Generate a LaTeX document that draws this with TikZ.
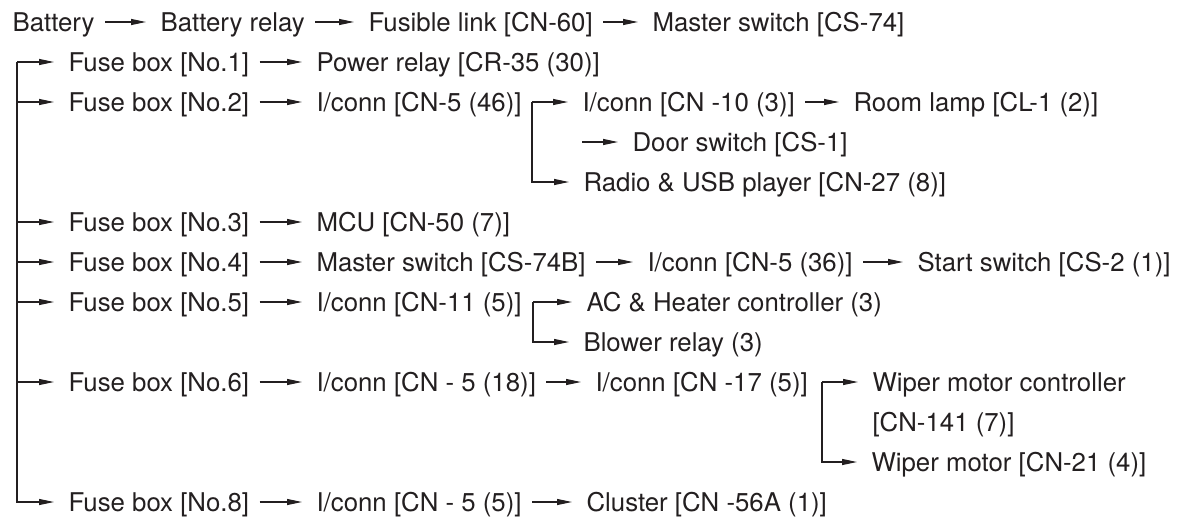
\documentclass[tikz,border=0pt]{standalone}
\usepackage{fontspec}
\setmainfont{TeX Gyre Heros}
\usetikzlibrary{arrows.meta}
\definecolor{ink}{HTML}{231F20}

\begin{document}
\begin{tikzpicture}[x=0.5pt, y=-0.5pt, line width=0.55pt, color=ink,
    txt/.style={inner sep=0pt, font=\fontsize{12.9pt}{20pt}\selectfont},
    lbl/.style={txt, anchor=west, text height=9.3pt, text depth=0pt},
    arr/.style={-{Triangle[length=7.5pt,width=3pt]}, shorten >=7pt},
    gap/.style={shorten <=5pt}]
    \useasboundingbox (0,0) rectangle (1186,519);

    % 第一行
    \node[lbl] (bat) at (12,22) {Battery};
    \node[lbl] (brel) at (160,22) {Battery relay};
    \node[lbl] (fl60) at (368,22) {Fusible link [CN-60]};
    \node[lbl] (ms74) at (652,22) {Master switch [CS-74]};
    \draw[arr,gap] (bat) -- (brel);
    \draw[arr,gap] (brel) -- (fl60);
    \draw[arr,gap] (fl60) -- (ms74);

    % 保险丝盒
    \node[lbl] (fb1) at (68,62) {Fuse box [No.1]};
    \node[lbl] (fb2) at (68,102) {Fuse box [No.2]};
    \node[lbl] (fb3) at (68,222) {Fuse box [No.3]};
    \node[lbl] (fb4) at (68,262) {Fuse box [No.4]};
    \node[lbl] (fb5) at (68,302) {Fuse box [No.5]};
    \node[lbl] (fb6) at (68,382) {Fuse box [No.6]};
    \node[lbl] (fb8) at (68,502) {Fuse box [No.8]};

    % 主干线
    \coordinate (trunk) at (17,62);
    \foreach \f in {fb1,fb2,fb3,fb4,fb5,fb6}
        \draw[arr] (trunk |- \f) -- (\f);
    \draw[arr] (trunk) |- (fb8);

    % 第二列
    \node[lbl] (pr35) at (316,62) {Power relay [CR-35 (30)]};
    \node[lbl] (c46) at (316,102) {I/conn [CN-5 (46)]};
    \node[lbl] (mcu) at (316,222) {MCU [CN-50 (7)]};
    \node[lbl] (ms74b) at (316,262) {Master switch [CS-74B]};
    \node[lbl] (c11) at (316,302) {I/conn [CN-11 (5)]};
    \node[lbl] (c18) at (316,382) {I/conn [CN - 5 (18)]};
    \node[lbl] (c5) at (316,502) {I/conn [CN - 5 (5)]};
    \foreach \a/\b in {fb1/pr35, fb2/c46, fb3/mcu, fb4/ms74b, fb5/c11, fb6/c18, fb8/c5}
        \draw[arr,gap] (\a) -- (\b);

    % No.2 分支
    \node[lbl] (c10) at (582,102) {I/conn [CN -10 (3)]};
    \node[lbl] (lamp) at (853,102) {Room lamp [CL-1 (2)]};
    \node[lbl] (door) at (632,142) {Door switch [CS-1]};
    \node[lbl] (radio) at (583,182) {Radio \& USB player [CN-27 (8)]};
    \coordinate (br46) at (532,102);
    \draw[arr] (br46) -- (c10);
    \draw[arr] (br46) |- (radio);
    \draw[arr,gap] (c10) -- (lamp);
    \draw[arr] (c10.west |- door) -- (door);

    % No.4
    \node[lbl] (c36) at (647,262) {I/conn [CN-5 (36)]};
    \node[lbl] (start) at (917,262) {Start switch [CS-2 (1)]};
    \draw[arr,gap] (ms74b) -- (c36);
    \draw[arr,gap] (c36) -- (start);

    % No.5 分支
    \node[lbl] (ach) at (586,302) {AC \& Heater controller (3)};
    \node[lbl] (blower) at (583,342) {Blower relay (3)};
    \coordinate (br11) at (533,302);
    \draw[arr] (br11) -- (ach);
    \draw[arr] (br11) |- (blower);

    % No.6 分支
    \node[lbl] (c17) at (595,382) {I/conn [CN -17 (5)]};
    \node[txt, anchor=north west, align=left] (wipc) at (872,372.5) {Wiper motor controller\\{[CN-141 (7)]}};
    \node[lbl] (wiper) at (871,462) {Wiper motor [CN-21 (4)]};
    \draw[arr,gap] (c18) -- (c17);
    \coordinate (br17) at (822,382);
    \draw[arr] (br17) -- (br17 -| wipc.west);
    \draw[arr] (br17) |- (wiper);

    % No.8
    \node[lbl] (cluster) at (586,502) {Cluster [CN -56A (1)]};
    \draw[arr,gap] (c5) -- (cluster);
\end{tikzpicture}
\end{document}
